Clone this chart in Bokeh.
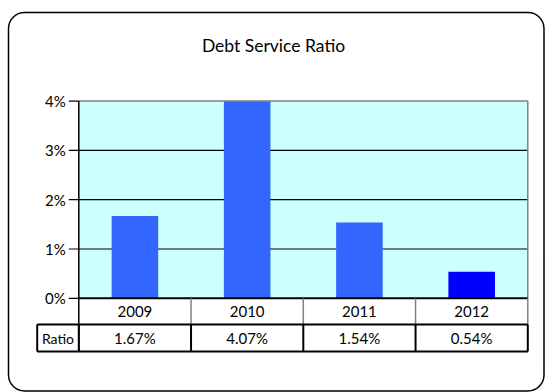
import numpy as np
from bokeh.plotting import figure
from bokeh.models import Range1d, BoxAnnotation, ColumnDataSource
from bokeh.core.properties import value
from bokeh.embed import file_html
from bokeh.resources import INLINE

# ---- data ----
title_text = "Debt Service Ratio"
years = ["2009", "2010", "2011", "2012"]
ratio = [1.67, 4.07, 1.54, 0.54]
ratio_labels = ["1.67%", "4.07%", "1.54%", "0.54%"]
row_label = "Ratio"
y_ticks = [0, 1, 2, 3, 4]
y_tick_labels = ["0%", "1%", "2%", "3%", "4%"]
bar_colors = ["#3366FF", "#3366FF", "#3366FF", "#0000FF"]

# ---- layout constants (pixels in a 546x392 canvas) ----
W, H = 546, 392
PX_X0, UX = 78.3, 112.25      # x pixel of category boundary 0, pixels per category
PX_Y0, UY = 297.8, 49.3       # y pixel of 0 %, pixels per 1 %
FONT = value("Lato")
FS = "15px"


def dx(px):
    return (px - PX_X0) / UX


def dy(py):
    return (PX_Y0 - py) / UY


n = len(years)
ymax = max(y_ticks)
xs = np.arange(n) + 0.5

p = figure(width=W, height=H, output_backend="svg", toolbar_location=None,
           x_range=Range1d(dx(0), dx(W)), y_range=Range1d(dy(H), dy(0)),
           min_border=0)
p.axis.visible = False
p.grid.visible = False
p.outline_line_color = None
p.background_fill_color = "white"
p.border_fill_color = "white"

# plot area background
p.quad(left=[0], right=[n], bottom=[0], top=[ymax], fill_color="#CCFFFF", line_color=None)

# gridlines
grid_y = [t for t in y_ticks if 0 < t < ymax]
p.segment(x0=[0] * len(grid_y), x1=[n] * len(grid_y), y0=grid_y, y1=grid_y,
          line_color="black", line_width=1.2)

# bars (clipped at the top of the value axis)
src = ColumnDataSource(dict(x=xs, top=np.minimum(ratio, ymax), color=bar_colors))
p.vbar(x="x", width=0.415, bottom=0, top="top", fill_color="color", line_color=None, source=src)

# plot area top / right border (gray)
p.segment(x0=[0, n], x1=[n, n], y0=[ymax, 0], y1=[ymax, ymax], line_color="#808080", line_width=1.5)

# value axis
p.segment(x0=[0], x1=[0], y0=[dy(351)], y1=[ymax], line_color="black", line_width=1.5)
tick_len = 10 / UX
p.segment(x0=[-tick_len] * len(y_ticks), x1=[0] * len(y_ticks), y0=y_ticks, y1=y_ticks,
          line_color="black", line_width=1.2)
p.text(x=[0] * len(y_ticks), y=y_ticks, text=y_tick_labels, x_offset=-13,
       text_align="right", text_baseline="middle", text_font=FONT,
       text_font_size=FS, text_color="black")

# category axis line (0 %)
p.segment(x0=[0], x1=[n], y0=[0], y1=[0], line_color="black", line_width=2)

# data table
row1_bot = dy(324)
row2_bot = dy(351)
ratio_left = dx(36.7)
# row 1 dividers (gray)
p.segment(x0=list(range(1, n + 1)), x1=list(range(1, n + 1)), y0=[row1_bot] * n, y1=[0] * n,
          line_color="#808080", line_width=1.5)
# horizontal table lines
p.segment(x0=[ratio_left, ratio_left], x1=[n, n], y0=[row1_bot, row2_bot], y1=[row1_bot, row2_bot],
          line_color="black", line_width=2)
# row 2 dividers
v_x = [ratio_left] + list(range(0, n + 1))
p.segment(x0=v_x, x1=v_x, y0=[row2_bot] * len(v_x), y1=[row1_bot] * len(v_x),
          line_color="black", line_width=2)

row1_mid = (0 + row1_bot) / 2
row2_mid = (row1_bot + row2_bot) / 2
p.text(x=xs, y=[row1_mid] * n, text=years, text_align="center", text_baseline="middle",
       text_font=FONT, text_font_size=FS, text_color="black")
p.text(x=xs, y=[row2_mid] * n, text=ratio_labels, text_align="center", text_baseline="middle",
       text_font=FONT, text_font_size=FS, text_color="black")
p.text(x=[(ratio_left + 0) / 2], y=[row2_mid], text=[row_label], text_align="center",
       text_baseline="middle", text_font=FONT, text_font_size="14px", text_color="black")

# title
p.text(x=[dx(273)], y=[dy(45)], text=[title_text], text_align="center", text_baseline="middle",
       text_font=FONT, text_font_size="17.5px", text_color="black")

# rounded chart border
p.add_layout(BoxAnnotation(left=dx(8), right=dx(543.5), top=dy(12), bottom=dy(390.5),
                           fill_color=None, fill_alpha=0, line_color="black", line_alpha=1.0,
                           line_width=1.5, border_radius=16))

open("out.html", "w").write(file_html(p, INLINE))
